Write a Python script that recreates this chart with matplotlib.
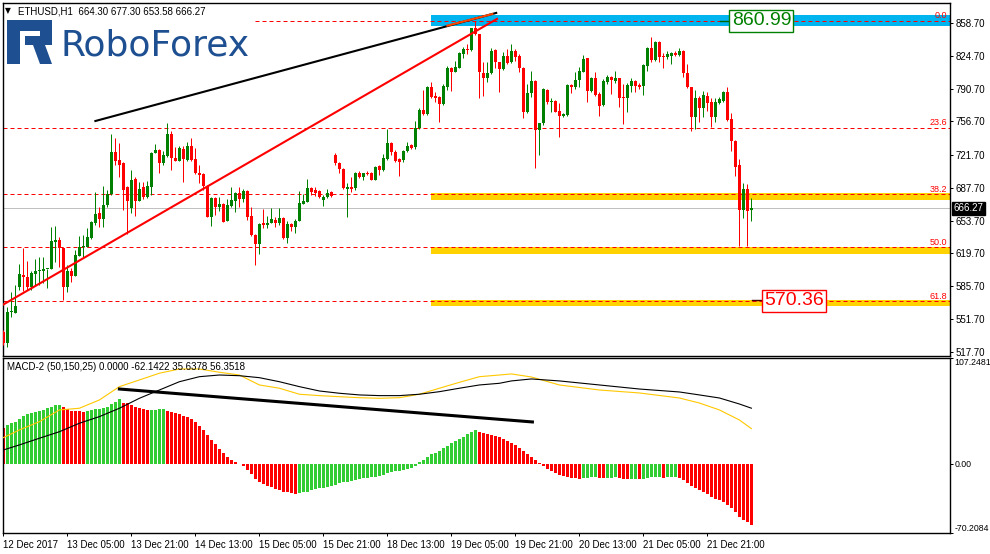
import numpy as np
import matplotlib
matplotlib.use("Agg")
import matplotlib.pyplot as plt
from matplotlib.patches import Rectangle, Polygon

plt.rcParams['font.family'] = ['Liberation Sans', 'DejaVu Sans']

# ETHUSD H1 candles
opens = [538.2, 527.1, 559.2, 558.2, 585.2, 597.3, 594.9, 585.2, 598.4, 601.3,
         601.5, 603.4, 603.5, 631.9, 633.6, 625.3, 585.2, 601.5, 596.6, 617.3,
         626.4, 626.7, 635.7, 651.6, 661.6, 655.4, 669.9, 681.3, 725.2, 716.6,
         713.8, 688.6, 666.5, 696.9, 674.4, 688.6, 678.2, 688.9, 724.2, 727.0,
         713.8, 720.7, 743.6, 718.7, 715.9, 728.0, 716.6, 731.1, 717.6, 703.4,
         702.1, 689.6, 657.8, 677.2, 668.2, 671.0, 653.6, 668.9, 674.4, 682.0,
         675.8, 684.7, 658.5, 638.8, 629.4, 651.6, 649.2, 651.6, 654.3, 651.6,
         656.1, 635.4, 650.2, 647.4, 653.6, 671.0, 673.3, 687.2, 685.5, 684.7,
         675.1, 677.9, 683.7, 721.8, 713.8, 706.9, 686.5, 688.6, 687.2, 702.8,
         699.3, 703.4, 703.4, 695.9, 710.7, 706.2, 717.6, 734.5, 725.2, 717.6,
         716.6, 726.2, 732.1, 730.4, 749.5, 768.5, 764.0, 792.6, 783.3, 782.2,
         774.4, 792.6, 812.3, 808.2, 812.3, 826.2, 831.7, 830.7, 853.2, 847.0,
         806.5, 801.3, 806.5, 830.7, 818.0, 811.0, 824.8, 818.0, 829.7, 824.8,
         811.7, 766.1, 785.8, 798.6, 747.7, 754.6, 789.2, 776.4, 777.8, 767.4,
         762.2, 763.3, 794.4, 792.6, 799.6, 808.2, 822.1, 788.5, 801.3, 785.1,
         773.6, 797.8, 802.4, 798.9, 801.3, 781.6, 780.6, 793.4, 798.9, 794.4,
         793.4, 814.1, 832.5, 820.3, 839.3, 824.5, 823.1, 824.5, 827.9, 825.5,
         830.0, 806.5, 792.0, 761.5, 780.6, 770.2, 783.0, 777.1, 760.9, 776.0,
         778.1, 787.4, 758.8, 736.6, 711.4, 664.7, 686.2, 664.30]
highs = [540.2, 564.1, 580.0, 586.9, 608.7, 625.3, 612.1, 601.5, 613.9, 616.3,
         616.3, 604.0, 647.1, 648.1, 636.7, 626.0, 607.7, 604.6, 623.2, 638.1,
         638.8, 645.8, 653.0, 683.7, 668.2, 689.6, 685.5, 743.6, 739.1, 734.5,
         714.5, 689.3, 706.2, 699.3, 694.1, 694.1, 695.1, 725.2, 733.2, 727.8,
         726.2, 755.3, 747.0, 729.8, 731.1, 731.1, 735.6, 739.1, 729.1, 711.4,
         702.6, 690.7, 677.8, 677.9, 677.9, 671.5, 675.8, 688.2, 683.7, 688.2,
         686.2, 685.3, 668.2, 639.5, 650.8, 665.4, 658.5, 666.5, 657.1, 666.5,
         657.1, 653.6, 650.9, 655.1, 684.7, 681.3, 696.6, 688.2, 688.2, 685.5,
         680.3, 686.2, 684.7, 724.2, 714.8, 708.0, 693.0, 699.3, 704.0, 705.5,
         703.3, 705.5, 704.0, 710.3, 711.3, 722.5, 748.7, 735.6, 727.0, 718.3,
         727.0, 735.6, 732.9, 757.0, 770.2, 789.2, 793.3, 797.8, 786.8, 782.8,
         795.1, 814.4, 813.4, 819.3, 828.3, 834.1, 836.6, 853.8, 860.99, 847.6,
         818.6, 818.6, 833.1, 831.3, 818.6, 829.0, 831.7, 836.6, 831.7, 826.2,
         813.4, 795.1, 808.9, 799.2, 755.3, 790.8, 790.2, 781.2, 778.5, 776.0,
         765.0, 795.0, 795.0, 808.2, 812.8, 825.5, 822.8, 803.0, 808.2, 787.4,
         800.3, 804.8, 803.7, 809.2, 802.0, 795.4, 796.2, 801.3, 799.5, 796.8,
         816.2, 834.1, 843.9, 840.3, 840.3, 827.3, 830.0, 829.0, 830.0, 832.5,
         830.6, 816.2, 792.6, 789.2, 783.0, 788.5, 787.4, 780.6, 780.6, 782.2,
         788.0, 792.0, 765.0, 737.3, 717.3, 693.0, 691.7, 677.30]
lows = [524.7, 522.6, 553.7, 557.8, 581.8, 580.7, 581.8, 581.8, 586.9, 586.9,
        588.7, 583.8, 603.0, 611.1, 605.6, 571.4, 580.0, 590.4, 596.0, 617.0,
        616.3, 626.0, 634.3, 649.2, 647.4, 647.4, 668.2, 680.5, 711.4, 699.3,
        664.7, 639.8, 661.3, 658.5, 673.8, 675.8, 677.5, 680.3, 723.5, 702.8,
        711.4, 720.0, 706.2, 715.2, 715.2, 694.1, 715.9, 715.9, 702.5, 692.4,
        685.5, 657.2, 648.1, 659.6, 664.0, 652.0, 653.0, 668.2, 663.0, 668.2,
        673.3, 654.3, 637.7, 607.7, 619.1, 645.8, 645.8, 651.0, 646.8, 649.2,
        634.8, 630.2, 643.2, 640.6, 653.0, 670.5, 672.7, 680.3, 679.3, 676.9,
        668.9, 676.9, 677.9, 711.4, 702.8, 686.2, 657.8, 683.7, 685.5, 697.6,
        695.9, 701.0, 695.3, 695.3, 701.0, 705.6, 716.9, 721.8, 714.8, 700.3,
        714.8, 724.6, 728.0, 728.0, 748.9, 763.4, 763.4, 781.2, 776.4, 756.3,
        773.8, 789.2, 788.2, 807.6, 811.7, 822.1, 826.2, 830.0, 846.3, 781.2,
        783.3, 797.2, 805.5, 811.7, 786.8, 810.0, 816.2, 816.9, 819.3, 807.6,
        760.5, 765.4, 781.6, 708.0, 721.8, 752.9, 774.4, 766.7, 766.1, 740.7,
        761.5, 762.2, 785.8, 790.0, 792.0, 807.6, 777.1, 787.4, 783.3, 762.2,
        772.9, 795.5, 785.0, 796.8, 771.9, 754.0, 766.7, 787.4, 787.4, 790.0,
        784.0, 809.2, 818.6, 819.6, 818.6, 811.7, 821.1, 816.2, 824.5, 824.5,
        803.0, 791.4, 747.0, 748.4, 756.3, 760.9, 767.7, 750.5, 756.3, 774.7,
        777.1, 757.4, 726.2, 700.0, 627.4, 656.1, 627.4, 653.58]
closes = [526.8, 559.2, 559.6, 565.2, 598.4, 595.2, 585.2, 599.7, 601.5, 601.5,
          603.5, 603.5, 632.6, 633.6, 625.3, 585.2, 601.5, 596.6, 618.1, 626.7,
          627.4, 637.0, 652.3, 660.6, 655.4, 669.9, 681.3, 725.2, 715.9, 711.4,
          685.5, 674.4, 695.9, 674.4, 686.5, 678.2, 689.6, 724.2, 727.0, 713.2,
          721.8, 743.6, 718.7, 715.9, 729.1, 717.6, 731.1, 716.6, 703.1, 701.0,
          689.6, 657.8, 677.2, 668.2, 671.0, 652.6, 669.9, 675.1, 682.7, 675.8,
          684.1, 657.8, 638.8, 629.4, 650.2, 649.2, 651.6, 655.7, 651.6, 656.1,
          635.4, 650.2, 647.4, 653.6, 671.7, 674.4, 687.2, 683.7, 682.7, 677.9,
          678.5, 682.7, 679.3, 713.8, 706.9, 687.2, 688.6, 686.5, 703.4, 699.3,
          702.8, 702.1, 695.9, 709.6, 706.2, 718.7, 734.5, 724.9, 715.5, 714.8,
          726.0, 731.1, 729.4, 749.5, 768.5, 764.0, 792.6, 782.2, 781.2, 774.4,
          793.7, 812.3, 807.6, 813.4, 827.3, 831.7, 831.0, 853.2, 847.0, 807.6,
          801.3, 806.5, 829.7, 818.0, 811.0, 824.8, 816.9, 829.7, 823.8, 811.7,
          766.7, 785.8, 798.6, 747.7, 754.6, 790.2, 776.4, 777.8, 766.7, 762.2,
          764.3, 794.4, 792.6, 799.6, 809.2, 821.1, 788.5, 801.3, 784.0, 772.6,
          798.9, 803.0, 799.6, 801.3, 780.6, 781.2, 794.4, 798.9, 793.4, 792.6,
          815.1, 832.5, 820.3, 839.3, 823.8, 823.1, 826.6, 827.9, 825.5, 830.0,
          806.5, 792.0, 761.5, 780.6, 770.2, 784.0, 776.0, 760.9, 777.1, 779.5,
          787.4, 758.1, 736.6, 709.6, 664.7, 686.2, 664.0, 666.27]

# MACD-2 (50,150,25)
macd_hist = [36.5, 39.2, 40.9, 42.6, 45.3, 48.3, 50.0, 51.7, 52.7, 53.4,
             54.4, 56.1, 57.8, 59.5, 59.6, 57.1, 55.4, 53.4, 53.2, 53.0,
             52.7, 53.4, 54.1, 55.1, 55.4, 56.1, 57.8, 60.2, 62.9, 65.2,
             61.9, 61.2, 59.5, 57.8, 56.8, 55.4, 54.4, 54.6, 54.8, 55.1,
             55.3, 53.7, 52.7, 51.0, 50.0, 48.7, 47.7, 45.3, 42.6, 38.5,
             34.1, 29.1, 24.0, 19.6, 14.9, 10.5, 7.1, 3.7, 1.4, 0.2,
             -2.0, -6.4, -10.8, -15.5, -18.3, -21.0, -22.3, -23.7, -25.7, -27.0,
             -28.4, -29.1, -30.1, -31.1, -30.1, -29.1, -28.4, -26.7, -26.0, -25.0,
             -24.3, -23.3, -22.6, -21.6, -19.9, -18.9, -18.3, -17.2, -16.6, -15.9,
             -14.9, -14.2, -13.9, -13.2, -12.2, -11.5, -9.8, -8.1, -7.4, -7.3,
             -6.4, -5.7, -4.7, -2.4, 1.4, 3.7, 7.1, 9.5, 11.2, 12.8,
             15.5, 18.3, 21.3, 23.0, 25.0, 27.4, 29.7, 32.4, 34.1, 32.4,
             30.8, 29.7, 29.1, 28.4, 27.4, 25.1, 23.1, 21.1, 19.1, 16.0,
             13.0, 9.9, 6.9, 3.9, 0.8, -2.2, -5.3, -7.3, -9.3, -11.4,
             -12.4, -13.4, -14.4, -14.7, -15.4, -14.8, -14.3, -13.9, -13.6, -14.3,
             -14.8, -14.5, -14.0, -13.6, -14.2, -15.2, -15.8, -15.5, -15.0, -15.4,
             -15.2, -14.4, -13.9, -13.4, -13.2, -14.0, -13.9, -13.7, -13.6, -14.5,
             -16.4, -19.5, -22.5, -24.5, -26.6, -28.6, -30.6, -33.7, -35.7, -36.7,
             -38.7, -41.8, -44.8, -48.9, -53.9, -57.0, -59.0, -62.14]
line_idx = [0, 4, 9, 14, 19, 24, 29, 34, 39, 44, 49, 54, 59, 64, 69, 74, 79, 84,
            89, 94, 99, 104, 109, 114, 119, 124, 127, 132, 139, 149, 159, 169,
            174, 179, 184, 187]
macd_black = [14.0, 19.1, 25.9, 32.5, 41.1, 47.8, 56.3, 66.4, 74.8, 83.2,
              88.3, 90.0, 89.3, 87.3, 83.2, 78.2, 73.8, 71.5, 69.8, 69.1,
              69.1, 70.5, 73.1, 76.6, 79.9, 81.6, 84.0, 86.0, 84.0, 79.9,
              75.8, 72.8, 69.8, 66.7, 60.6, 56.35]
macd_yellow = [26.5, 34.3, 42.7, 54.6, 56.3, 64.7, 78.2, 85.0, 91.8, 96.1,
               96.1, 92.8, 90.0, 79.9, 76.6, 70.5, 69.1, 68.0, 67.0, 66.4,
               67.0, 70.5, 76.6, 82.6, 88.3, 90.0, 91.1, 88.0, 79.9, 74.8,
               71.8, 66.7, 61.6, 54.6, 44.4, 35.64]

price_ticks = [858.70, 824.70, 790.70, 756.70, 721.70, 687.70, 653.70,
               619.70, 585.70, 551.70, 517.70]
date_pos = [0, 16, 32, 48, 64, 80, 96, 112, 128, 144, 160, 176]
date_labels = ["12 Dec 2017", "13 Dec 05:00", "13 Dec 21:00", "14 Dec 13:00",
               "15 Dec 05:00", "15 Dec 21:00", "18 Dec 13:00", "19 Dec 05:00",
               "19 Dec 21:00", "20 Dec 13:00", "21 Dec 05:00", "21 Dec 21:00"]

fib_high = 860.99
fib_range = 470.28
fib_levels = [0.0, 23.6, 38.2, 50.0, 61.8]
last_price = 666.27

W, H = 990, 554
PX = 0.72  # one pixel in points


def frac(x0, y0, x1, y1):
    return [x0 / W, 1 - y1 / H, (x1 - x0) / W, (y1 - y0) / H]


fig = plt.figure(figsize=(W / 100, H / 100), dpi=100)
fig.patch.set_facecolor('white')

ax = fig.add_axes(frac(3, 3, 950, 356))
ax2 = fig.add_axes(frac(3, 358, 950, 533))

n = len(closes)
x = np.arange(n)
o = np.array(opens)
c = np.array(closes)
bull = c >= o
ccol = np.where(bull, '#008000', '#FF0000')

# --- price panel ---
ax.set_xlim(-0.1, 236.65)
ax.set_ylim(513.25, 879.4)

# zones
ax.add_patch(Rectangle((107, 855.8), 140, 11.4, fc='#00B4F0', ec='none', zorder=1))
for lo, hi in [(675.1, 682.6), (619.1, 626.0), (564.8, 571.4)]:
    ax.add_patch(Rectangle((107, lo), 140, hi - lo, fc='#FFD200', ec='none', zorder=1))

# fibo levels
for lv in fib_levels:
    p = fib_high - lv / 100 * fib_range
    x0 = 63 if lv == 0 else -0.1
    ax.plot([x0, 240], [p, p], color='#FF0000', lw=PX, ls=(0, (4, 3)), zorder=2)
    ax.annotate(f"{lv:.1f}", xy=(1, p), xycoords=('axes fraction', 'data'),
                xytext=(-2, 0.3), textcoords='offset points', ha='right', va='bottom',
                color='#FF0000', fontsize=6.5, zorder=6)

ax.axhline(last_price, color='#C0C0C0', lw=PX, zorder=1)

# candles
ax.vlines(x, lows, highs, colors=ccol, lw=PX, zorder=3)
ax.bar(x, np.maximum(np.abs(c - o), 1.0), bottom=np.minimum(o, c), width=0.75,
       color=ccol, lw=0, zorder=3)

# trend lines
ax.plot([23, 123.2], [757.0, 869.1], color='black', lw=1.5, zorder=4)
ax.plot([0, 123.4], [566.7, 862.9], color='#FF0000', lw=1.5, zorder=4)
ax.plot([111, 122.25], [855.9, 868.0], color='#FF4500', lw=1.5, zorder=4)

# price labels
ax.plot([179.2, 181.5], [fib_high, fib_high], color='#006400', lw=1, zorder=5)
ax.text(189.5, fib_high, "860.99", ha='center', va='center', fontsize=14,
        color='#008000', zorder=6,
        bbox=dict(boxstyle='square,pad=0.12', fc='white', ec='#008000', lw=1))
p618 = fib_high - 0.618 * fib_range
ax.plot([187.2, 189.8], [p618 + 1, p618 + 1], color='#400000', lw=1, zorder=5)
ax.text(197.6, p618, "570.36", ha='center', va='center', fontsize=14,
        color='#FF0000', zorder=6,
        bbox=dict(boxstyle='square,pad=0.12', fc='white', ec='#FF0000', lw=1))

ax.set_xticks([])
ax.set_yticks(price_ticks)
ax.set_yticklabels([f"{t:.2f}" for t in price_ticks])
ax.tick_params(axis='y', left=False, labelleft=False, right=True, labelright=True,
               length=2.2, width=PX, pad=2, labelsize=7, colors='black')
ax.annotate(f"{last_price:.2f}", xy=(1, last_price), xycoords=('axes fraction', 'data'),
            xytext=(2.5, 0), textcoords='offset points', ha='left', va='center',
            color='white', fontsize=7, annotation_clip=False,
            bbox=dict(boxstyle='square,pad=0.2', fc='black', ec='black'))

# --- MACD panel ---
hist = np.array(macd_hist)
hcol = np.where(np.diff(hist, prepend=np.inf) >= 0, '#32CD32', '#FF0000')
ax2.set_xlim(-0.1, 236.65)
ax2.set_ylim(-70.2084, 107.2481)
ax2.bar(x, hist, width=0.75, color=hcol, lw=0, zorder=2)
ax2.plot(line_idx, macd_yellow, color='#FFC800', lw=0.8, zorder=3)
ax2.plot(line_idx, macd_black, color='black', lw=0.8, zorder=3)
ax2.plot([29, 132.25], [75.8, 42.4], color='black', lw=2.2, zorder=4)

ax2.set_xticks(date_pos)
ax2.set_xticklabels(date_labels, ha='left')
ax2.tick_params(axis='x', length=2.5, width=PX, pad=2.5, labelsize=7)
ax2.set_yticks([107.2481, 0, -70.2084])
ax2.set_yticklabels(["107.2481", "0.00", "-70.2084"])
ax2.tick_params(axis='y', left=False, labelleft=False, right=True, labelright=True,
                length=2.2, width=PX, pad=1.2, labelsize=6.3)
ticks = ax2.yaxis.get_major_ticks()
ticks[0].label2.set_va('top')
ticks[2].label2.set_va('bottom')

for a in (ax, ax2):
    for s in a.spines.values():
        s.set_linewidth(1.0)
        s.set_color('black')

# --- headers and logo (pixel overlay) ---
ov = fig.add_axes([0, 0, 1, 1], zorder=10)
ov.set_xlim(0, W)
ov.set_ylim(H, 0)
ov.axis('off')
ov.patch.set_alpha(0)

ov.text(5, 11, "\u25BC", fontsize=5.5, va='center', ha='left', family='DejaVu Sans')
ov.text(18, 11, "ETHUSD,H1  664.30 677.30 653.58 666.27", fontsize=7, va='center', ha='left')
ov.text(7, 366.5, "MACD-2 (50,150,25) 0.0000 -62.1422 35.6378 56.3518", fontsize=7,
        va='center', ha='left')

logo = '#1D4F91'
for rx, ry, rw, rh in [(7, 20, 13, 44), (7, 20, 45, 11), (40, 20, 12, 25), (25, 36, 27, 9)]:
    ov.add_patch(Rectangle((rx, ry), rw, rh, fc=logo, ec='none'))
ov.add_patch(Polygon([(33, 45), (45, 45), (52, 64), (40, 64)], closed=True, fc=logo, ec='none'))
ov.text(60, 56, "RoboForex", fontsize=26, color=logo, va='baseline', ha='left',
        family='DejaVu Sans')

fig.savefig("out.png", dpi=100)
